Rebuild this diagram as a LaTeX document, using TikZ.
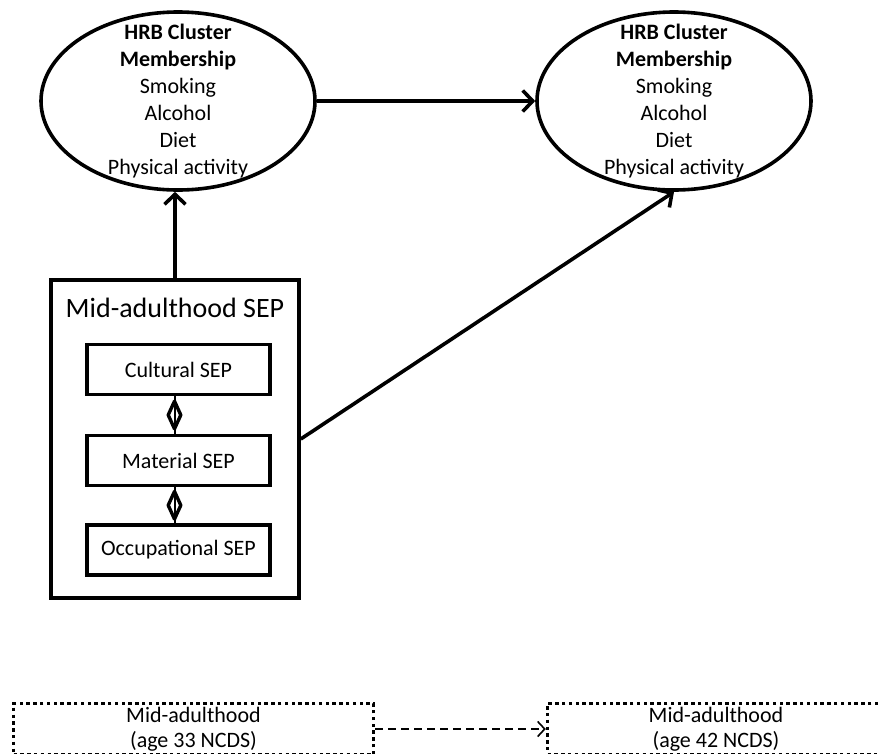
\documentclass[tikz,border=0pt]{standalone}
\usepackage{fontspec}
\setmainfont{Carlito}
\usetikzlibrary{arrows.meta,shapes.geometric}

\begin{document}
\begin{tikzpicture}[x=1pt,y=-1pt,>={Straight Barb[length=10pt,width=21pt]},
    line width=3.6pt,
    hrb node/.style={ellipse,draw,minimum width=274pt,minimum height=178pt,
      inner xsep=0pt,inner ysep=-20pt,align=center,font=\fontsize{22}{27}\selectfont},
    sep node/.style={rectangle,draw,minimum width=183pt,minimum height=50pt,
      inner sep=0pt,font=\fontsize{22}{27}\selectfont},
    wave node/.style={rectangle,draw,line width=3.4pt,dash pattern=on 3.4pt off 3.4pt,
      minimum height=51pt,inner sep=0pt,align=center,font=\fontsize{22}{25}\selectfont},
    dmd/.style={diamond,draw,line width=3.4pt,line join=round,minimum width=14pt,
      minimum height=29pt,inner sep=0pt}]
    \clip (0,0) rectangle (880,753);
    % health behaviour clusters
    \node[hrb node] (h33) at (178,101) {\textbf{HRB Cluster}\\\textbf{Membership}\\Smoking\\Alcohol\\Diet\\Physical activity};
    \node[hrb node] (h42) at (674,101) {\textbf{HRB Cluster}\\\textbf{Membership}\\Smoking\\Alcohol\\Diet\\Physical activity};
    % socioeconomic position
    \node[draw,minimum width=248pt,minimum height=318pt] (sep) at (175,439) {};
    \node[font=\fontsize{28}{32}\selectfont] (septitle) at (175,308) {Mid-adulthood SEP};
    \node[sep node] (cult) at (178.5,369.5) {Cultural SEP};
    \node[sep node] (mat) at (178.5,460.5) {Material SEP};
    \node[sep node] (occ) at (178.5,550) {Occupational SEP};
    % waves
    \node[wave node,minimum width=360pt] (w33) at (193.5,729) {Mid-adulthood\\(age 33 NCDS)};
    \node[wave node,minimum width=337pt] (w42) at (716,729) {Mid-adulthood\\(age 42 NCDS)};
    \path[->]
    (h33) edge (h42)
    (sep.north) edge (sep.north |- h33.south)
    (sep.east) edge (h42.south)
    (w33) edge [line width=1.6pt,dash pattern=on 8pt off 5pt,
      -{Straight Barb[length=7pt,width=15pt]}] (w42);
    \draw[line width=2pt] ([xshift=-4pt]cult.south) -- node[dmd] {} ([xshift=-4pt]mat.north);
    \draw[line width=2pt] ([xshift=-4pt]mat.south) -- node[dmd] {} ([xshift=-4pt]occ.north);
\end{tikzpicture}
\end{document}
